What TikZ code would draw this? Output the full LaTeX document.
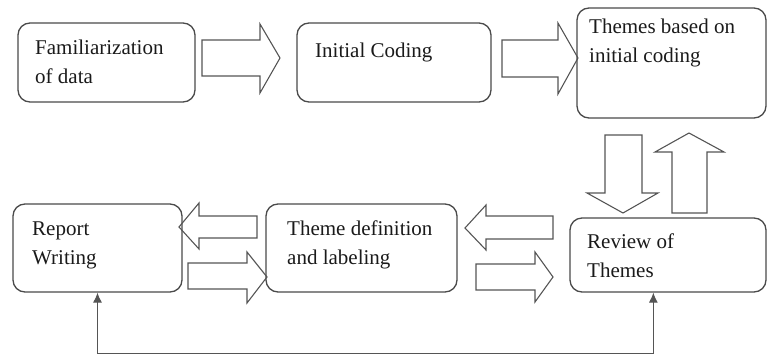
\documentclass[tikz,border=0pt]{standalone}
\usepackage{fontspec}
\setmainfont{Liberation Serif}
\usetikzlibrary{arrows.meta,calc}
\definecolor{boxgray}{HTML}{4A4A4A}
\definecolor{arrgray}{HTML}{555555}
\definecolor{txtcol}{HTML}{1A1A1A}
\newcommand{\twoline}[2]{\vtop{\hbox{#1}\hbox{#2}}}
\begin{document}
\begin{tikzpicture}[x=1pt,y=-1pt,
  box/.style={draw=boxgray, line width=1.3pt, rounded corners=12pt, inner sep=0pt},
  txt/.style={anchor=base west, inner sep=0pt, text=txtcol, font=\fontsize{21}{29}\selectfont},
  blk/.style={draw=arrgray, line width=1.1pt, line join=miter},
  conn/.style={draw=arrgray, line width=1pt, {Latex[length=10pt,width=9pt]}-{Latex[length=10pt,width=9pt]}}]
\useasboundingbox (0,0) rectangle (768,356);

% boxes
\node[box, minimum width=177pt, minimum height=79pt] (b1) at (106.5,62.5) {};
\node[box, minimum width=194pt, minimum height=79pt] (b2) at (394,62.5) {};
\node[box, minimum width=189pt, minimum height=110pt] (b3) at (671.5,63) {};
\node[box, minimum width=169pt, minimum height=88pt] (b4) at (97.5,248) {};
\node[box, minimum width=191pt, minimum height=88pt] (b5) at (361.5,248) {};
\node[box, minimum width=196pt, minimum height=74pt] (b6) at (668,255) {};

% texts
\node[txt] (t1) at (35,54) {\twoline{Familiarization}{of data}};
\node[txt] (t2) at (315,57) {Initial Coding};
\node[txt] (t3) at (589,33) {\twoline{Themes based on}{initial coding}};
\node[txt] (t4) at (32,235) {\twoline{Report}{Writing}};
\node[txt] (t5) at (287,235) {\twoline{Theme definition}{and labeling}};
\node[txt] (t6) at (587,248) {\twoline{Review of}{Themes}};

% block arrows
\draw[blk] (202,40) -- (260,40) -- (260,24) -- (280,58) -- (260,93) -- (260,76) -- (202,76) -- cycle;
\draw[blk] (502,40) -- (558,40) -- (558,23) -- (578,58) -- (558,94) -- (558,77) -- (502,77) -- cycle;
\draw[blk] (605,135) -- (642,135) -- (642,193) -- (658,193) -- (623,213) -- (587,193) -- (605,193) -- cycle;
\draw[blk] (672,213) -- (672,152) -- (655,152) -- (689,133) -- (724,152) -- (707,152) -- (707,213) -- cycle;
\draw[blk] (257,216) -- (199,216) -- (199,203) -- (179,227) -- (199,249) -- (199,238) -- (257,238) -- cycle;
\draw[blk] (188,263) -- (247,263) -- (247,252) -- (267,277) -- (247,303) -- (247,289) -- (188,289) -- cycle;
\draw[blk] (553,216) -- (486,216) -- (486,205) -- (465,228) -- (486,250) -- (486,239) -- (553,239) -- cycle;
\draw[blk] (476,264) -- (535,264) -- (535,252) -- (553,277) -- (535,302) -- (535,290) -- (476,290) -- cycle;

% feedback connector
\coordinate (cb) at (0,353);
\draw[conn] (b4.south) -- (b4.south |- cb) -| ([xshift=84pt]b6.south west);
\end{tikzpicture}
\end{document}
